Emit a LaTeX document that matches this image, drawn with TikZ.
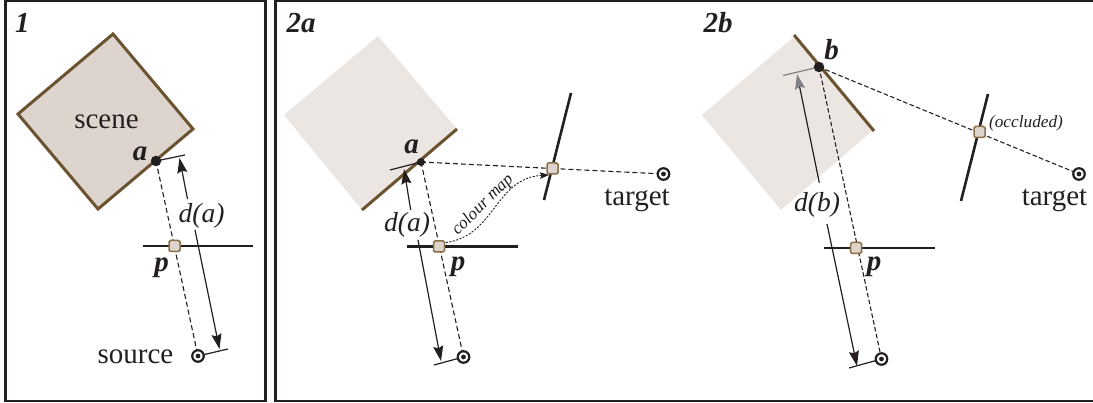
\documentclass[tikz,border=0pt]{standalone}
\usepackage{fontspec}
\setmainfont{Liberation Serif}
\usetikzlibrary{arrows.meta}
\definecolor{brn}{HTML}{6B5330}
\definecolor{boxbrn}{HTML}{8A6F48}
\definecolor{scenefill}{HTML}{DDD4CE}
\definecolor{lightfill}{HTML}{EBE6E2}
\definecolor{ink}{HTML}{231F20}
\definecolor{tipgray}{HTML}{808285}
\tikzset{
  frame/.style={draw=ink,line width=2.5pt},
  scenebox/.style={draw=brn,fill=scenefill,line width=3pt,line join=miter},
  ghost/.style={fill=lightfill,draw=none},
  surf/.style={draw=brn,line width=3pt},
  film/.style={draw=ink,line width=2.6pt},
  ray/.style={draw=ink,line width=1.1pt,dash pattern=on 5pt off 3pt},
  dim/.style={draw=ink,line width=1.2pt},
  dimtip/.style={dim,-{Stealth[length=15pt,width=10pt,inset=2pt]}},
  graytip/.style={dim,-{Stealth[length=15pt,width=10pt,inset=2pt,color=tipgray]}},
  tick/.style={draw=ink,line width=1.2pt},
  hit/.style={circle,fill=ink,inner sep=0pt,minimum size=10.5pt},
  pix/.style={rectangle,rounded corners=1.5pt,draw=boxbrn,fill=scenefill,line width=1.5pt,inner sep=0pt,minimum size=11pt},
  cam/.style={circle,draw=ink,fill=white,line width=2.2pt,inner sep=0pt,minimum size=11.5pt,path picture={\fill[ink] (path picture bounding box.center) circle (2.4pt);}},
  lbl/.style={text=ink,font=\fontsize{29}{31}\selectfont,inner sep=0pt},
  dlbl/.style={text=ink,font=\fontsize{27.5}{30}\selectfont\itshape,inner sep=0pt},
  blbl/.style={text=ink,font=\fontsize{29}{31}\selectfont\itshape\bfseries,inner sep=0pt},
  small/.style={text=ink,font=\fontsize{17.3}{19}\selectfont\itshape,inner sep=0pt}
}
\begin{document}
\begin{tikzpicture}[x=1pt,y=-1pt]
\useasboundingbox (0,0) rectangle (1093,403);
\clip (0,0) rectangle (1093,403);
% frames
\draw[frame] (5.5,1.2) rectangle (265.7,401);
\draw[frame] (275.5,1.2) rectangle (1100,401);

%%% panel 1
\draw[scenebox] (113,34) -- (193,129) -- (98,209) -- (18,114) -- cycle;
\coordinate (a1) at (156,161);
\coordinate (s1) at (198,356);
\coordinate (t1a) at (185,155);
\coordinate (t1b) at (228,349);
\coordinate (g1a) at (187.5,199);
\coordinate (g1b) at (195,230);
\coordinate (t1u) at (179.5,158);
\coordinate (t1d) at (219.5,349);
\coordinate (f1a) at (143,246);
\coordinate (f1b) at (253,246);
\draw[film] (f1a) -- (f1b);
\draw[ray] (a1) -- (s1);
\draw[tick] (a1) -- (t1a);
\draw[tick] (s1) -- (t1b);
\draw[dimtip] (g1a) -- (t1u);
\draw[dimtip] (g1b) -- (t1d);
\node[hit] (na1) at (a1) {};
\node[pix] (p1) at (174.5,246) {};
\node[cam] (c1) at (s1) {};
\node[blbl] (l1) at (22.5,23) {1};
\node[lbl] (scene) at (106.5,122) {scene};
\node[blbl] (la1) at (140,154) {a};
\node[blbl] (lp1) at (161.5,267.5) {p};
\node[dlbl] (ld1) at (201.5,216) {d(a)};
\node[lbl] (src) at (135.5,357) {source};

%%% panel 2a
\fill[ghost] (378,36) -- (457,129) -- (362,210) -- (284,115) -- cycle;
\coordinate (a2) at (421,162);
\coordinate (s2) at (463.5,357);
\coordinate (tg2) at (663.5,174);
\coordinate (q2) at (552.5,168.5);
\coordinate (b2a) at (362,210);
\coordinate (b2b) at (457,129);
\coordinate (t2a) at (390,170);
\coordinate (t2b) at (434,365);
\coordinate (g2a) at (410.7,210);
\coordinate (g2b) at (418,240);
\coordinate (t2u) at (404,169);
\coordinate (t2d) at (441,361);
\coordinate (f2a) at (407,246.5);
\coordinate (f2b) at (518,246.5);
\coordinate (m2a) at (571,93);
\coordinate (m2b) at (544,200);
\coordinate (cm2a) at (446,242.5);
\coordinate (cm2b) at (549,175);
\draw[surf] (b2a) -- (b2b);
\draw[film] (f2a) -- (f2b);
\draw[film] (m2a) -- (m2b);
\draw[ray] (a2) -- (s2);
\draw[ray] (a2) -- (q2);
\draw[ray] (q2) -- (tg2);
\draw[tick] (t2a) -- (a2);
\draw[tick] (t2b) -- (s2);
\draw[dimtip] (g2a) -- (t2u);
\draw[dimtip] (g2b) -- (t2d);
\draw[draw=ink,line width=.9pt,dash pattern=on 2pt off 1.5pt,-{Stealth[length=9pt,width=6.5pt,inset=1.5pt]}]
  (cm2a) .. controls (495,236) and (495,178) .. (cm2b);
\node[hit,minimum size=8pt] (na2) at (421,162) {};
\node[pix] (p2) at (439,246.5) {};
\node[pix] (pq2) at (q2) {};
\node[cam] (c2) at (s2) {};
\node[cam] (ct2) at (tg2) {};
\node[blbl] (l2a) at (301,23) {2a};
\node[blbl] (la2) at (411.5,147) {a};
\node[blbl] (lp2) at (458,266.5) {p};
\node[dlbl] (ld2) at (407,225) {d(a)};
\node[lbl] (lt2) at (637,200) {target};
\node[small,rotate=45] (cm) at (483,205) {colour map};

%%% panel 2b
\fill[ghost] (795,36) -- (873,130) -- (781,210) -- (702,115) -- cycle;
\coordinate (b3) at (819,67);
\coordinate (s3) at (881.5,359);
\coordinate (tg3) at (1079,174);
\coordinate (q3) at (979.5,132);
\coordinate (b3a) at (794,35);
\coordinate (b3b) at (874,131);
\coordinate (t3a) at (783,75.5);
\coordinate (t3b) at (849,368);
\coordinate (g3a) at (819.3,182.7);
\coordinate (g3b) at (827,224);
\coordinate (t3u) at (797,74);
\coordinate (t3d) at (857,366);
\coordinate (f3a) at (824,248);
\coordinate (f3b) at (935,248);
\coordinate (m3a) at (988,94);
\coordinate (m3b) at (961,201);
\draw[surf] (b3a) -- (b3b);
\draw[film] (f3a) -- (f3b);
\draw[film] (m3a) -- (m3b);
\draw[ray,dash pattern=on 4.5pt off 2.5pt] (b3) -- (s3);
\draw[ray,dash pattern=on 4.5pt off 2.5pt] (b3) -- (tg3);
\draw[tick,draw=tipgray] (t3a) -- (b3);
\draw[tick] (t3b) -- (s3);
\draw[graytip] (g3a) -- (t3u);
\draw[dimtip] (g3b) -- (t3d);
\node[hit] (nb3) at (b3) {};
\node[pix] (p3) at (856,248) {};
\node[pix] (pq3) at (q3) {};
\node[cam] (c3) at (s3) {};
\node[cam] (ct3) at (tg3) {};
\node[blbl] (l2b) at (718,23) {2b};
\node[blbl] (lb3) at (831.5,49.5) {b};
\node[blbl] (lp3) at (874,266.5) {p};
\node[dlbl] (ld3) at (817,205) {d(b)};
\node[lbl] (lt3) at (1054.5,200) {target};
\node[small] (occ) at (1026,123.5) {(occluded)};
\end{tikzpicture}
\end{document}
